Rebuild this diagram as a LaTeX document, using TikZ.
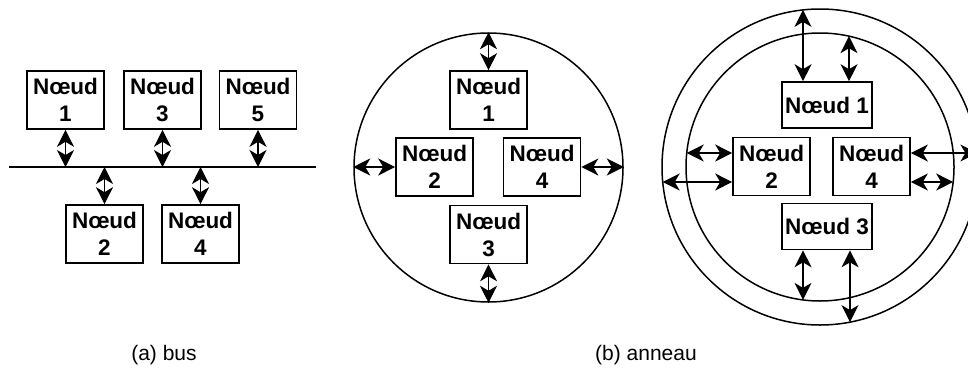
\documentclass[tikz,border=0pt]{standalone}
\usepackage{fontspec}
\setmainfont{Liberation Sans}
\usetikzlibrary{arrows.meta,calc}
\begin{document}
\begin{tikzpicture}[x=1pt,y=-1pt,
  box/.style={draw,line width=1.6pt,rectangle,inner sep=0pt,align=center,
    font=\bfseries\fontsize{22.5}{27}\selectfont},
  sq/.style={box,minimum width=77pt,minimum height=58pt},
  wd/.style={box,minimum width=90pt,minimum height=46pt},
  ring/.style={draw,circle,line width=1.5pt,inner sep=0pt},
  arr/.style={line width=1.3pt,{Stealth[length=17pt,width=17pt,inset=5pt]}-{Stealth[length=17pt,width=17pt,inset=5pt]}},
  captxt/.style={font=\fontsize{21}{25}\selectfont}]
\useasboundingbox (0,0) rectangle (968,367);
% ---------- (a) bus ----------
\coordinate (bl) at (9,167);
\coordinate (br) at (316,167);
\draw[line width=1.6pt] (bl) -- (br);
\node[sq] (b1) at (65.5,100) {Nœud\\1};
\node[sq] (b3) at (162.5,100) {Nœud\\3};
\node[sq] (b5) at (258,100) {Nœud\\5};
\node[sq] (b2) at (104.5,234) {Nœud\\2};
\node[sq] (b4) at (200.5,234) {Nœud\\4};
\foreach \n in {b1,b3,b5,b2,b4}{
  \draw[arr] (\n) -- (\n |- bl);
}
\node[captxt] (ca) at (164,355) {(a) bus};
% ---------- (b) ring ----------
\node[ring,minimum size=269pt] (c1) at (488.5,167.5) {};
\node[sq] (m1) at (488.5,100) {Nœud\\1};
\node[sq] (m2) at (434.5,167) {Nœud\\2};
\node[sq] (m4) at (542,167) {Nœud\\4};
\node[sq] (m3) at (488.5,234.5) {Nœud\\3};
\draw[arr] (m1.north) -- (m1.north |- c1.north);
\draw[arr] (m3.south) -- (m3.south |- c1.south);
\draw[arr] (m2.west) -- (m2.west -| c1.west);
\draw[arr] (m4.east) -- (m4.east -| c1.east);
% ---------- double ring ----------
\node[ring,minimum size=316pt] (co) at (820,167) {};
\node[ring,minimum size=268pt] (ci) at (820,167) {};
\node[wd] (r1) at (827,105) {Nœud 1};
\node[sq] (r2) at (771.5,166.5) {Nœud\\2};
\node[sq] (r4) at (871.5,166.5) {Nœud\\4};
\node[wd] (r3) at (827,226.5) {Nœud 3};
\coordinate (pa) at (803,9.9);
\coordinate (pb) at (849,36.2);
\coordinate (pc) at (686.7,153);
\coordinate (pd) at (662.7,182);
\coordinate (pe) at (977.4,153);
\coordinate (pf) at (953.2,182);
\coordinate (pg) at (803,299.9);
\coordinate (ph) at (850,322.1);
\draw[arr] (r1.north -| pa) -- (pa);
\draw[arr] (r1.north -| pb) -- (pb);
\draw[arr] (r2.west |- pc) -- (pc);
\draw[arr] (r2.west |- pd) -- (pd);
\draw[arr] (r4.east |- pe) -- (pe);
\draw[arr] (r4.east |- pf) -- (pf);
\draw[arr] (r3.south -| pg) -- (pg);
\draw[arr] (r3.south -| ph) -- (ph);
\node[captxt] (cb) at (646,355) {(b) anneau};
\end{tikzpicture}
\end{document}
